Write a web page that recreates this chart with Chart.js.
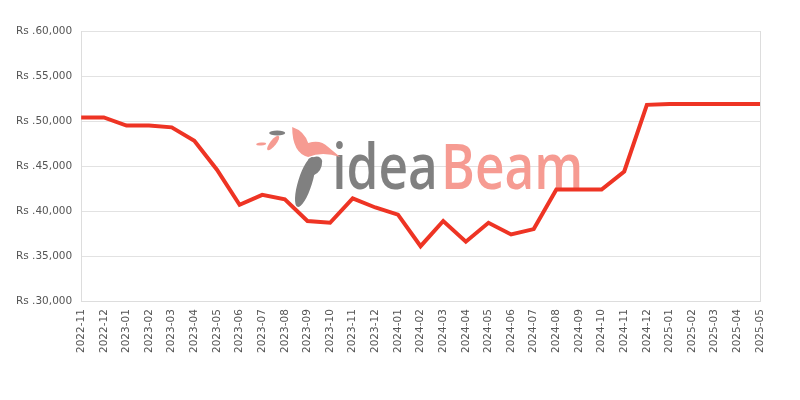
<!DOCTYPE html>
<html>
<head>
<meta charset="utf-8">
<script src="https://cdn.jsdelivr.net/npm/chart.js@4/dist/chart.umd.min.js"></script>
<style>
  html, body { margin: 0; padding: 0; background: #fff; }
  #wrap { width: 800px; height: 400px; }
</style>
</head>
<body>
<div id="wrap"><canvas id="priceChart"></canvas></div>
<script>
const months = [
  "2022-11", "2022-12", "2023-01", "2023-02", "2023-03", "2023-04", "2023-05", "2023-06",
  "2023-07", "2023-08", "2023-09", "2023-10", "2023-11", "2023-12", "2024-01", "2024-02",
  "2024-03", "2024-04", "2024-05", "2024-06", "2024-07", "2024-08", "2024-09", "2024-10",
  "2024-11", "2024-12", "2025-01", "2025-02", "2025-03", "2025-04", "2025-05"
];
const prices = [
  50400, 50400, 49500, 49500, 49300, 47800, 44600, 40700,
  41800, 41300, 38900, 38700, 41400, 40400, 39600, 36100,
  38900, 36600, 38700, 37400, 38000, 42400, 42400, 42400,
  44400, 51800, 51900, 51900, 51900, 51900, 51900
];
const yMin = 30000;
const yMax = 60000;
const yStep = 5000;

// logo watermark behind the line
const watermark = {
  id: "watermark",
  beforeDatasetsDraw(chart) {
    const { ctx, chartArea } = chart;
    const ox = chartArea.left + 251;   // left edge of "idea"
    const base = chartArea.top + 158;  // text baseline
    ctx.save();

    // text, squeezed to the logo width
    ctx.font = "600 64px 'Open Sans'";
    ctx.textBaseline = "alphabetic";
    const w1 = ctx.measureText("idea").width;
    const w2 = ctx.measureText("Beam").width;
    const sx = 248 / (w1 + w2);
    ctx.save();
    ctx.translate(ox, base);
    ctx.scale(sx, 1);
    ctx.fillStyle = "#808080";
    ctx.fillText("idea", 0, 0);
    ctx.fillStyle = "#f69b92";
    ctx.fillText("Beam", w1 + 4, 0);
    ctx.restore();

    // bird, rough
    const bx = ox - 40, by = base - 62;
    ctx.translate(bx, by);
    ctx.fillStyle = "#f69b92";
    ctx.beginPath();
    ctx.moveTo(0, 0);
    ctx.quadraticCurveTo(12, 4, 16, 16);
    ctx.quadraticCurveTo(28, 12, 36, 20);
    ctx.lineTo(48, 30);
    ctx.quadraticCurveTo(30, 24, 16, 30);
    ctx.quadraticCurveTo(0, 26, 0, 0);
    ctx.fill();
    ctx.beginPath();
    ctx.ellipse(-19, 16, 9, 3, -0.9, 0, Math.PI * 2);
    ctx.fill();
    ctx.beginPath();
    ctx.ellipse(-31, 17, 5, 1.5, -0.1, 0, Math.PI * 2);
    ctx.fill();

    ctx.fillStyle = "#808080";
    ctx.beginPath();
    ctx.ellipse(-15, 6, 8, 2.5, 0, 0, Math.PI * 2);
    ctx.fill();
    ctx.beginPath();
    ctx.ellipse(13, 55, 7, 26, 0.3, 0, Math.PI * 2);
    ctx.fill();
    ctx.beginPath();
    ctx.moveTo(16, 32);
    ctx.quadraticCurveTo(28, 26, 30, 34);
    ctx.quadraticCurveTo(30, 44, 22, 48);
    ctx.closePath();
    ctx.fill();
    ctx.restore();
  }
};

const ctx = document.getElementById("priceChart");
const lastIdx = months.length - 1;

new Chart(ctx, {
  type: "line",
  data: {
    labels: months,
    datasets: [
      {
        label: "Price",
        data: prices,
        borderColor: "#ee3424",
        backgroundColor: "#ee3424",
        borderWidth: 4,
        pointRadius: 0,
        tension: 0,
        fill: false,
      },
    ],
  },
  options: {
    responsive: true,
    maintainAspectRatio: false,
    animation: false,
    layout: { padding: { top: 31, right: 40, bottom: 39, left: 7 } },
    plugins: {
      legend: { display: false },
      tooltip: { enabled: false },
    },
    scales: {
      x: {
        grid: {
          color: (c) => (c.index === lastIdx ? "#dddddd" : "rgba(0,0,0,0)"),
          drawTicks: false,
        },
        border: { color: "#dddddd" },
        ticks: {
          autoSkip: false,
          minRotation: 90,
          maxRotation: 90,
          padding: 8,
          color: "#555",
          font: { family: "'DejaVu Sans'", size: 10.5 },
        },
      },
      y: {
        min: yMin,
        max: yMax,
        grid: { color: "#e2e2e2", drawTicks: false },
        border: { color: "#dddddd" },
        ticks: {
          stepSize: yStep,
          padding: 9,
          color: "#555",
          font: { family: "'DejaVu Sans'", size: 10.5 },
          callback: (v) => "Rs ." + v.toLocaleString("en-US"),
        },
      },
    },
  },
  plugins: [watermark],
});
</script>
</body>
</html>
